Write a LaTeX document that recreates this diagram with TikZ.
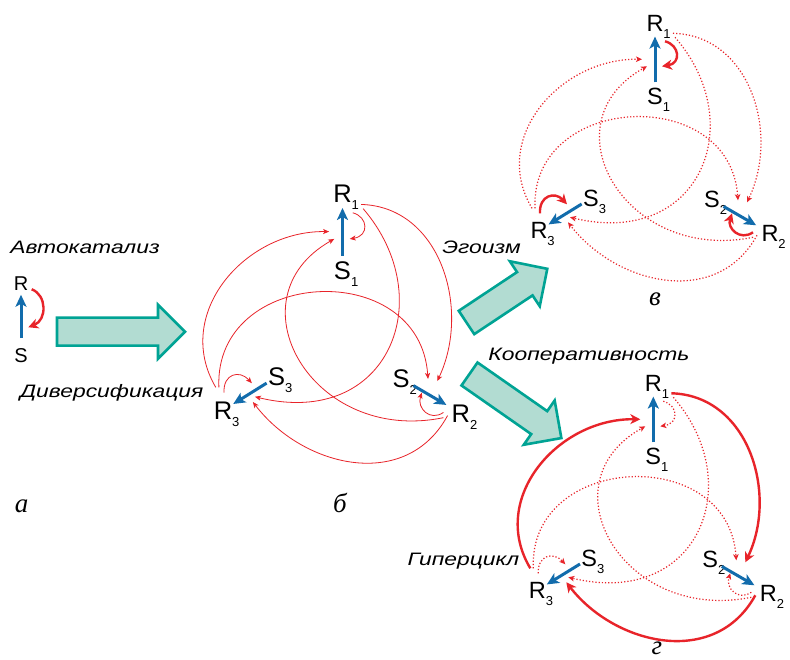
\documentclass[tikz,border=0pt]{standalone}
\usepackage{fontspec}
\setmainfont{Liberation Sans}
\newfontfamily\itfont{Liberation Sans}[FakeStretch=1.27]
\newfontfamily\serfont{Liberation Serif}
\usetikzlibrary{arrows.meta}
\definecolor{rd}{RGB}{232,36,42}
\definecolor{bl}{RGB}{18,108,172}
\definecolor{tealS}{RGB}{0,163,148}
\definecolor{tealF}{RGB}{178,220,210}
\newcommand\sbs[1]{\rlap{\raisebox{-7pt}[0pt][0pt]{\fontsize{13}{13}\selectfont #1}}}
\newcommand\drawtriad{%
\node[lbl] (R1) at (0,0) {R\sbs{1}};
\node[lbl] (S1) at (0,-73.5) {S\sbs{1}};
\node[lbl] (R2) at (115,-210) {R\sbs{2}};
\node[lbl] (S2) at (57,-176.5) {S\sbs{2}};
\node[lbl] (R3) at (-116,-207) {R\sbs{3}};
\node[lbl] (S3) at (-64,-175) {S\sbs{3}};
\coordinate (s1s) at (10,-18);    \coordinate (s1e) at (7,-43);
\coordinate (s2s) at (98,-209);   \coordinate (s2e) at (77,-190);
\coordinate (s3s) at (-115,-190); \coordinate (s3e) at (-88,-181);
\coordinate (o1s) at (18,-10);    \coordinate (o1e) at (92,-179);
\coordinate (o2s) at (102,-212);  \coordinate (o2e) at (-87,-199);
\coordinate (o3s) at (-123,-185); \coordinate (o3e) at (-13,-36);
\coordinate (i1s) at (20,-14);    \coordinate (i1e) at (-85,-194);
\coordinate (i2s) at (98,-214);   \coordinate (i2e) at (-8,-43);
\coordinate (i3s) at (-120,-185); \coordinate (i3e) at (83,-177);
\draw[ina] (i1s) .. controls (95,-100) and (45,-225) .. (i1e);
\draw[ina] (i2s) .. controls (-30,-240) and (-110,-100) .. (i2e);
\draw[ina] (i3s) .. controls (-125,-70) and (75,-60) .. (i3e);
\draw[outa] (o1s) .. controls (95,-12) and (125,-110) .. (o1e);
\draw[outa] (o2s) .. controls (62,-285) and (-38,-262) .. (o2e);
\draw[outa] (o3s) .. controls (-165,-115) and (-95,-35) .. (o3e);
\draw[selfa] (s1s) .. controls (25,-22) and (26,-40) .. (s1e);
\draw[selfa] (s2s) .. controls (85,-218) and (72,-205) .. (s2e);
\draw[selfa] (s3s) .. controls (-116,-172) and (-100,-168) .. (s3e);
\draw[bluearr, shorten <=6pt, shorten >=5pt] (S1) -- (R1);
\draw[bluearr, shorten <=1.5pt, shorten >=1pt] (S3) -- (R3);
\draw[bluearr, shorten <=4pt, shorten >=6pt] (S2) -- (R2);
}
\newcommand\fatarrow[4]{%
\draw[fatarr, shift={(#1,#2)}, rotate=#3] (0,-14) -- ({#4-27},-14) -- ({#4-27},-27) -- (#4,0) -- ({#4-27},27) -- ({#4-27},14) -- (0,14) -- cycle;}
\begin{document}
\begin{tikzpicture}[x=1pt,y=1pt,
 lbl/.style={inner sep=0pt, font=\fontsize{23.5}{24}\selectfont},
 lblA/.style={inner sep=0pt, font=\fontsize{20}{20}\selectfont},
 bluearr/.style={bl, line width=3pt, -{Stealth[length=12pt,width=11pt,inset=3pt]}},
 thinarr/.style={rd, line width=0.8pt, -{Stealth[length=6pt,width=5pt,inset=1.5pt]}},
 dotarr/.style={rd, line width=1.2pt, dash pattern=on 1.2pt off 2pt, -{Stealth[length=6pt,width=5.5pt,inset=1.5pt]}},
 thickarr/.style={rd, line width=2.4pt, -{Stealth[length=10pt,width=10pt,inset=3pt]}},
 fatarr/.style={draw=tealS, fill=tealF, line width=2.6pt, line join=miter},
 itl/.style={inner sep=0pt, font=\itfont\itshape\fontsize{18}{18}\selectfont},
 serl/.style={inner sep=0pt, font=\serfont\itshape\fontsize{27}{27}\selectfont}]
\fill[white] (0,0) rectangle (790,660);
\useasboundingbox (0,0) rectangle (790,660);
% panel a
\node[lblA] (Ra) at (21,376.3) {R};
\node[lblA] (Sa) at (21,304.7) {S};
\coordinate (as) at (31.7,370.7);
\coordinate (ae) at (28.3,332.7);
\draw[thickarr] (as) .. controls (47,365) and (47,340) .. (ae);
\draw[bluearr, shorten <=10pt, shorten >=4pt] (Sa) -- (Ra);
% fat arrows
\fatarrow{57}{328.3}{0}{128}
\fatarrow{466.5}{337.5}{33.6}{97}
\fatarrow{469.5}{286}{-34.9}{112}
% panels
\begin{scope}[shift={(342.5,466)}, xscale=1.03, yscale=1.045, name prefix=b-,
  lbl/.append style={font=\fontsize{25.5}{26}\selectfont},
  selfa/.style=thinarr, outa/.style=thinarr, ina/.style=thinarr]
\drawtriad
\end{scope}
\begin{scope}[shift={(655,636.7)}, name prefix=v-,
  selfa/.style=thickarr, outa/.style=dotarr, ina/.style=dotarr]
\drawtriad
\end{scope}
\begin{scope}[shift={(653.3,276.7)}, name prefix=g-,
  selfa/.style=dotarr, outa/.style=thickarr, ina/.style=dotarr]
\drawtriad
\end{scope}
% texts
\node[itl, anchor=base] (tA) at (85,406) {Автокатализ};
\node[itl, anchor=base] (tD) at (111.7,262.7) {Диверсификация};
\node[itl, anchor=base] (tE) at (481.5,406.7) {Эгоизм};
\node[itl, anchor=base] (tK) at (589,299.3) {Кооперативность};
\node[itl, anchor=base] (tG) at (463.5,94) {Гиперцикл};
\node[serl, anchor=base] (la) at (21.7,147.3) {а};
\node[serl, anchor=base] (lb) at (340,147) {б};
\node[serl, anchor=base] (lv) at (655,354) {в};
\node[serl, anchor=base] (lg) at (657,5) {г};
\end{tikzpicture}
\end{document}
